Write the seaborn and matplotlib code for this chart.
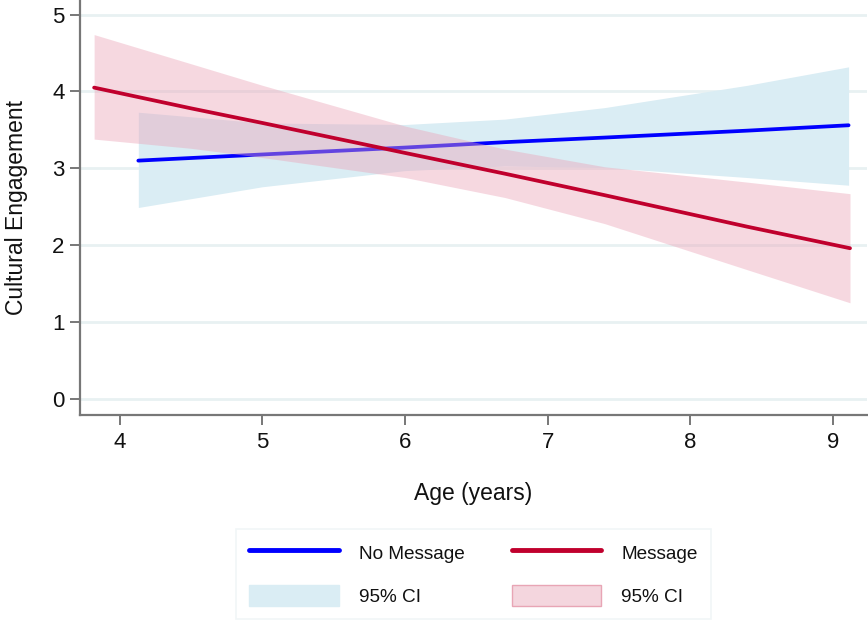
import pandas as pd
import matplotlib.pyplot as plt
import seaborn as sns
from matplotlib.lines import Line2D
from matplotlib.patches import Patch

# values (margins plot, linear fit with 95% CI)
age_nomsg = [4.13, 5.0, 6.0, 6.7, 7.4, 8.4, 9.11]
fit_nomsg = [3.10, 3.18, 3.27, 3.34, 3.40, 3.49, 3.56]
lo_nomsg = [2.49, 2.76, 2.97, 3.03, 3.01, 2.88, 2.78]
hi_nomsg = [3.73, 3.59, 3.57, 3.64, 3.79, 4.08, 4.32]

age_msg = [3.82, 4.5, 5.0, 6.0, 6.7, 7.4, 8.4, 9.12]
fit_msg = [4.05, 3.78, 3.59, 3.20, 2.93, 2.65, 2.24, 1.96]
lo_msg = [3.38, 3.26, 3.14, 2.88, 2.62, 2.28, 1.68, 1.25]
hi_msg = [4.74, 4.36, 4.08, 3.55, 3.25, 3.02, 2.82, 2.67]

x_ticks = [4, 5, 6, 7, 8, 9]
y_ticks = [0, 1, 2, 3, 4, 5]

BLUE = "#0000ff"
RED = "#c0002d"
BAND_BLUE = "#daedf4"
BAND_RED = "#eba3b7"

df_nomsg = pd.DataFrame({"Age": age_nomsg, "Fit": fit_nomsg, "Group": "No Message"})
df_msg = pd.DataFrame({"Age": age_msg, "Fit": fit_msg, "Group": "Message"})

sns.set_theme(style="white")
plt.rcParams["font.family"] = ["Liberation Sans", "DejaVu Sans"]

fig = plt.figure(figsize=(8.68, 6.25), dpi=100)
ax = fig.add_axes([0.092, 0.336, 0.907, 0.664])

# draw order matters: blue band, blue line, red band on top, red line last
ax.fill_between(age_nomsg, lo_nomsg, hi_nomsg, color=BAND_BLUE, lw=0, zorder=2)
sns.lineplot(data=df_nomsg, x="Age", y="Fit", color=BLUE, lw=2.7, ax=ax, zorder=3)
ax.fill_between(age_msg, lo_msg, hi_msg, color=BAND_RED, alpha=0.42, lw=0, zorder=4)
sns.lineplot(data=df_msg, x="Age", y="Fit", color=RED, lw=2.7, ax=ax, zorder=5)

ax.set_xlim(3.72, 9.24)
ax.set_ylim(-0.21, 5.19)
ax.set_xticks(x_ticks)
ax.set_yticks(y_ticks)
for yv in y_ticks:
    ax.axhline(yv, color="#e8f1f2", lw=2, zorder=1)

ax.tick_params(axis="both", which="both", bottom=True, left=True, direction="out",
               length=7, width=1.4, color="#777777", labelsize=16, labelcolor="#111111")
ax.tick_params(axis="x", pad=5)
ax.tick_params(axis="y", pad=4)
for side in ["top", "right"]:
    ax.spines[side].set_visible(False)
for side in ["left", "bottom"]:
    ax.spines[side].set_color("#777777")
    ax.spines[side].set_linewidth(1.6)

ax.set_xlabel("Age (years)", fontsize=16.5, labelpad=21, color="#111111")
ax.set_ylabel("Cultural Engagement", fontsize=16.5, labelpad=17, color="#111111")

handles = [
    Line2D([], [], color=BLUE, lw=3.5),
    Patch(facecolor=BAND_BLUE, edgecolor=BAND_BLUE),
    Line2D([], [], color=RED, lw=3.5),
    Patch(facecolor="#f4d6de", edgecolor="#e8a5b5"),
]
labels = ["No Message", "95% CI", "Message", "95% CI"]
leg = fig.legend(handles, labels, ncol=2, loc="center", bbox_to_anchor=(0.5455, 0.0816),
                 fontsize=13.7, frameon=True, fancybox=False, handlelength=4.7,
                 handleheight=1.25, handletextpad=1.05, columnspacing=2.5,
                 labelspacing=1.2, borderpad=0.7, labelcolor="#111111")
leg.get_frame().set_edgecolor("#eef4f5")
leg.get_frame().set_linewidth(1.2)

fig.savefig("out.png", dpi=100)
